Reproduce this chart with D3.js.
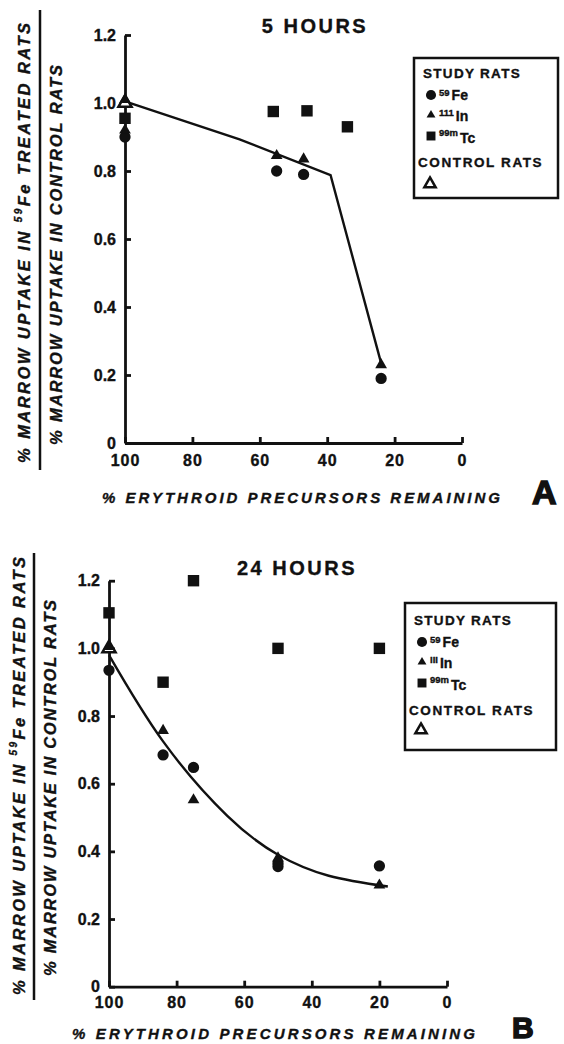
<!DOCTYPE html>
<html>
<head>
<meta charset="utf-8">
<script src="https://cdn.jsdelivr.net/npm/d3@7"></script>
<style>
  body { margin: 0; background: #fff; }
  svg { display: block; font-family: "Liberation Sans", Arial, sans-serif; font-weight: bold; }
  text { stroke: #111; stroke-width: 0.35px; }
</style>
</head>
<body>
<svg id="chart" width="564" height="1044"></svg>
<script>
var xTicks = [100, 80, 60, 40, 20, 0];
var yTicks = [0, 0.2, 0.4, 0.6, 0.8, 1.0, 1.2];
var yTickLabels = ["0", "0.2", "0.4", "0.6", "0.8", "1.0", "1.2"];

// panel A, 5 hours
var feA = [[100, 0.90], [55, 0.80], [47, 0.79], [24, 0.19]];
var inA = [[100, 1.01], [100, 0.92], [55, 0.845], [47, 0.835], [24, 0.23]];
var tcA = [[100, 0.955], [56, 0.975], [46, 0.977], [34, 0.93]];
var controlA = [[100, 1.0]];
var fitA = [[100, 1.005], [66, 0.893], [39, 0.788], [24, 0.235]];

// panel B, 24 hours
var feB = [[100, 0.935], [84, 0.685], [75, 0.648], [50, 0.355], [50, 0.365], [20, 0.357]];
var inB = [[100, 1.005], [84, 0.757], [75, 0.552], [50, 0.38], [20, 0.30]];
var tcB = [[100, 1.105], [84, 0.90], [75, 1.2], [50, 1.0], [20, 1.0]];
var controlB = [[100, 1.0]];
var fitB = [[100, 0.98], [84, 0.725], [65, 0.505], [50, 0.39], [35, 0.328], [17.5, 0.296]];

var ink = "#111";
var svg = d3.select("#chart");

function marker(type, size) {
    return d3.symbol().type(type).size(size)();
}

function isoLabel(t, x, y, sup, main, mainDy) {
    var tx = t.append("text").attr("x", x).attr("y", y).attr("fill", ink);
    tx.append("tspan").attr("font-size", 9.5).attr("dy", -3).text(sup);
    tx.append("tspan").attr("font-size", 14).attr("dy", 3 + mainDy).attr("dx", 2).text(main);
}

function drawLegend(L) {
    var g = svg.append("g");
    g.append("rect")
        .attr("x", L.x).attr("y", L.y)
        .attr("width", L.w).attr("height", L.h)
        .attr("fill", "#fff").attr("stroke", ink).attr("stroke-width", 2.5);

    g.append("text").attr("x", L.x + 9).attr("y", L.rows[0] + 5)
        .attr("font-size", 13.5).attr("letter-spacing", 1.3).attr("fill", ink)
        .text("STUDY RATS");

    g.append("path").attr("d", marker(d3.symbolCircle, 80))
        .attr("transform", "translate(" + (L.x + 17) + "," + L.rows[1] + ")").attr("fill", ink);
    isoLabel(g, L.x + 25, L.rows[1] + 4, "59", "Fe", 1);

    g.append("path").attr("d", marker(d3.symbolTriangle, 34))
        .attr("transform", "translate(" + (L.x + 17) + "," + L.rows[2] + ")").attr("fill", ink);
    isoLabel(g, L.x + 25, L.rows[2] + 4, L.inLabel, "In", 2);

    g.append("path").attr("d", marker(d3.symbolSquare, 80))
        .attr("transform", "translate(" + (L.x + 17) + "," + L.rows[3] + ")").attr("fill", ink);
    isoLabel(g, L.x + 25, L.rows[3] + 3, "99m", "Tc", 4);

    g.append("text").attr("x", L.x + 4).attr("y", L.rows[4] + 5)
        .attr("font-size", 13.5).attr("letter-spacing", 1.6).attr("fill", ink)
        .text("CONTROL RATS");

    g.append("path").attr("d", marker(d3.symbolTriangle, 55))
        .attr("transform", "translate(" + (L.x + 16) + "," + L.rows[5] + ")")
        .attr("fill", "#fff").attr("stroke", ink).attr("stroke-width", 2.5);
}

function drawPanel(P) {
    var g = svg.append("g");
    var x = d3.scaleLinear().domain([100, 0]).range([P.left, P.right]);
    var y = d3.scaleLinear().domain([0, 1.2]).range([P.bottom, P.top]);

    var xa = g.append("g")
        .attr("transform", "translate(0," + P.bottom + ")")
        .call(d3.axisBottom(x).tickValues(xTicks).tickSize(-6).tickSizeOuter(0)
            .tickPadding(P.xPad).tickFormat(d3.format("d")));
    var ya = g.append("g")
        .attr("transform", "translate(" + P.left + ",0)")
        .call(d3.axisLeft(y).tickValues(yTicks).tickSize(-6).tickSizeOuter(0)
            .tickPadding(9).tickFormat(function(d, i) { return yTickLabels[i]; }));

    [xa, ya].forEach(function(a) {
        a.attr("font-family", null).attr("font-size", 16);
        a.selectAll("path, line").attr("stroke", ink).attr("stroke-width", 2.8);
        a.selectAll("text").attr("fill", ink);
    });
    xa.selectAll("text").attr("letter-spacing", 1);

    var line = d3.line()
        .x(function(d) { return x(d[0]); })
        .y(function(d) { return y(d[1]); })
        .curve(P.curve);
    g.append("path").datum(P.fit)
        .attr("d", line).attr("fill", "none")
        .attr("stroke", ink).attr("stroke-width", 2.4);

    g.selectAll(".ctrl").data(P.control).enter().append("path")
        .attr("d", marker(d3.symbolTriangle, 75))
        .attr("transform", function(d) { return "translate(" + x(d[0]) + "," + y(d[1]) + ")"; })
        .attr("fill", "#fff").attr("stroke", ink).attr("stroke-width", 2.5);

    g.selectAll(".tc").data(P.tc).enter().append("path")
        .attr("d", marker(d3.symbolSquare, 130))
        .attr("transform", function(d) { return "translate(" + x(d[0]) + "," + y(d[1]) + ")"; })
        .attr("fill", ink);

    g.selectAll(".fe").data(P.fe).enter().append("path")
        .attr("d", marker(d3.symbolCircle, 100))
        .attr("transform", function(d) { return "translate(" + x(d[0]) + "," + y(d[1]) + ")"; })
        .attr("fill", ink);

    g.selectAll(".in").data(P.inn).enter().append("path")
        .attr("d", marker(d3.symbolTriangle, 60))
        .attr("transform", function(d) { return "translate(" + x(d[0]) + "," + y(d[1]) + ")"; })
        .attr("fill", ink);

    g.append("text")
        .attr("x", P.titleX).attr("y", P.titleY)
        .attr("text-anchor", "middle").attr("font-size", 20)
        .attr("letter-spacing", 2.5).attr("fill", ink)
        .text(P.title);

    g.append("text")
        .attr("x", P.xtX).attr("y", P.xtY)
        .attr("font-size", 15).attr("font-style", "italic").attr("fill", ink)
        .attr("textLength", P.xtLen).attr("lengthAdjust", "spacing")
        .text("% ERYTHROID PRECURSORS REMAINING");

    g.append("text")
        .attr("x", P.letterX).attr("y", P.letterY)
        .attr("font-size", P.letterSize).attr("fill", ink)
        .style("stroke-width", "1.5px")
        .text(P.letter);

    // y label: fraction written sideways
    var y1 = g.append("text")
        .attr("transform", "translate(" + P.yl1X + "," + P.yl1Mid + ") rotate(-90)")
        .attr("text-anchor", "middle").attr("dominant-baseline", "central")
        .attr("font-size", 16.5).attr("font-style", "italic").attr("fill", ink)
        .attr("textLength", P.yl1Len).attr("lengthAdjust", "spacing");
    y1.append("tspan").text("% MARROW UPTAKE IN ");
    y1.append("tspan").attr("font-size", 10).attr("dy", -6).text("59");
    y1.append("tspan").attr("dy", 6).text("Fe TREATED RATS");

    g.append("line")
        .attr("x1", P.divX).attr("x2", P.divX)
        .attr("y1", P.divTop).attr("y2", P.divBottom)
        .attr("stroke", ink).attr("stroke-width", 2.5);

    g.append("text")
        .attr("transform", "translate(" + P.yl2X + "," + P.yl2Mid + ") rotate(-90)")
        .attr("text-anchor", "middle").attr("dominant-baseline", "central")
        .attr("font-size", 16.5).attr("font-style", "italic").attr("fill", ink)
        .attr("textLength", P.yl2Len).attr("lengthAdjust", "spacing")
        .text("% MARROW UPTAKE IN CONTROL RATS");
}

drawPanel({
    left: 125, right: 462, top: 35, bottom: 443, xPad: 12,
    fe: feA, inn: inA, tc: tcA, control: controlA, fit: fitA, curve: d3.curveLinear,
    title: "5 HOURS", titleX: 315, titleY: 33,
    xtX: 102, xtY: 503, xtLen: 398,
    letter: "A", letterX: 532, letterY: 504, letterSize: 34,
    yl1X: 24, yl1Mid: 243, yl1Len: 440,
    yl2X: 56, yl2Mid: 255, yl2Len: 380,
    divX: 40, divTop: 10, divBottom: 470
});
drawLegend({ x: 414, y: 58, w: 144, h: 140, rows: [73, 95, 115, 136, 162, 184], inLabel: "111" });

drawPanel({
    left: 109, right: 447, top: 580.7, bottom: 986.7, xPad: 10,
    fe: feB, inn: inB, tc: tcB, control: controlB, fit: fitB, curve: d3.curveNatural,
    title: "24 HOURS", titleX: 297, titleY: 575,
    xtX: 72, xtY: 1039, xtLen: 403,
    letter: "B", letterX: 512, letterY: 1038, letterSize: 30,
    yl1X: 19, yl1Mid: 776, yl1Len: 438,
    yl2X: 50, yl2Mid: 788, yl2Len: 376,
    divX: 34, divTop: 553, divBottom: 1000
});
drawLegend({ x: 405, y: 603, w: 151, h: 147, rows: [620, 642, 662, 683, 710, 730], inLabel: "III" });
</script>
</body>
</html>
